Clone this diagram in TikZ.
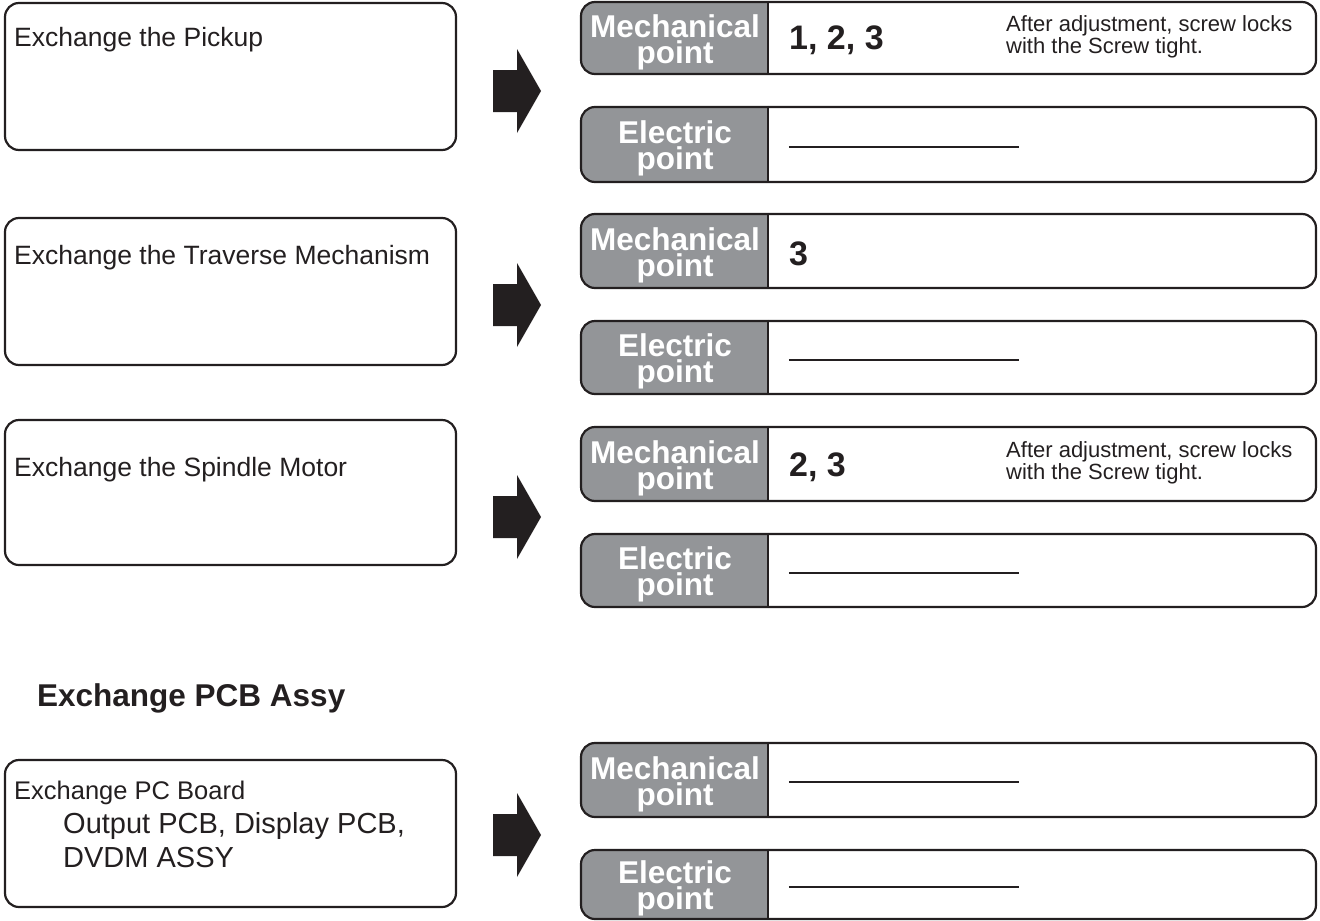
\documentclass[tikz,border=0pt]{standalone}
\usepackage{fontspec}
\setmainfont{Liberation Sans}
\usetikzlibrary{fit}
\definecolor{labelgray}{RGB}{147,149,152}
\definecolor{inkblack}{RGB}{35,31,32}
\begin{document}
\begin{tikzpicture}[
	x=1pt,y=-1pt,
	taskbox/.style={draw=inkblack,line width=2.2pt,rounded corners=14pt,inner sep=0pt},
	pointbox/.style={draw=inkblack,line width=2.2pt,rounded corners=14pt,inner sep=0pt},
	plabel/.style={text=white,align=center,inner sep=0pt,font=\fontsize{31.5}{26}\selectfont\bfseries},
	tasktext/.style={anchor=base west,inner sep=0pt,text=inkblack,font=\fontsize{26.5}{30}\selectfont},
	subtext/.style={anchor=base west,inner sep=0pt,text=inkblack,font=\fontsize{29}{32}\selectfont},
	headtext/.style={anchor=base west,inner sep=0pt,text=inkblack,font=\fontsize{31.5}{34}\selectfont\bfseries},
	steps/.style={anchor=west,inner sep=0pt,text=inkblack,font=\fontsize{34}{38}\selectfont\bfseries},
	note/.style={anchor=west,inner sep=0pt,align=left,text=inkblack,font=\fontsize{22}{22}\selectfont},
	blank/.style={draw=inkblack,line width=2pt},
	divider/.style={draw=inkblack,line width=2pt},
	bigarrow/.style={fill=inkblack}
	]
	\useasboundingbox (0,0) rectangle (1320,921);
	\foreach \n/\t/\b in {task1/3/150,task2/218/365,task3/420/565,task4/760/907}{
		\node[taskbox,fit={(5,\t) (456,\b)}] (\n) {};
	}
	\foreach \n/\t/\b/\lab in {mech1/2/74/Mechanical,elec1/107/182/Electric,mech2/214/288/Mechanical,elec2/321/394/Electric,mech3/427/501/Mechanical,elec3/534/607/Electric,mech4/743/817/Mechanical,elec4/850/919/Electric}{
		\begin{scope}
			\clip[rounded corners=14pt] (581,\t) rectangle (1316,\b);
			\fill[labelgray] (581,\t) rectangle (769,\b);
		\end{scope}
		\node[pointbox,fit={(581,\t) (1316,\b)}] (\n) {};
		\draw[divider] ([xshift=188pt]\n.north west) -- ([xshift=188pt]\n.south west);
		\node[plabel] (lab\n) at (675,{(\t+\b)/2+4}) {\lab\\point};
	}
	\foreach \c in {91,305,517,835}{
		\fill[bigarrow] (493,\c-21) -- (517,\c-21) -- (517,\c-42) -- (541,\c) -- (517,\c+42) -- (517,\c+21) -- (493,\c+21) -- cycle;
	}
	\node[tasktext] (title1) at (14,46) {Exchange the Pickup};
	\node[tasktext] (title2) at (14,264) {Exchange the Traverse Mechanism};
	\node[tasktext] (title3) at (14,476) {Exchange the Spindle Motor};
	\node[tasktext,font=\fontsize{25.5}{30}\selectfont] (title4) at (14,799) {Exchange PC Board};
	\node[subtext] (boards1) at (63,833) {Output PCB, Display PCB,};
	\node[subtext] (boards2) at (63,867) {DVDM ASSY};
	\node[headtext] (pcbhead) at (37,706) {Exchange PCB Assy};
	\node[steps] (steps1) at (789,40) {1, 2, 3};
	\node[steps] (steps2) at (789,254) {3};
	\node[steps] (steps3) at (789,467) {2, 3};
	\node[note] (note1) at (1006,37) {After adjustment, screw locks\\with the Screw tight.};
	\node[note] (note3) at (1006,463) {After adjustment, screw locks\\with the Screw tight.};
	\foreach \n in {elec1,elec2,elec3,mech4,elec4}{
		\draw[blank] ([xshift=209pt,yshift=-2pt]\n.west) -- ++(230,0);
	}
\end{tikzpicture}
\end{document}
